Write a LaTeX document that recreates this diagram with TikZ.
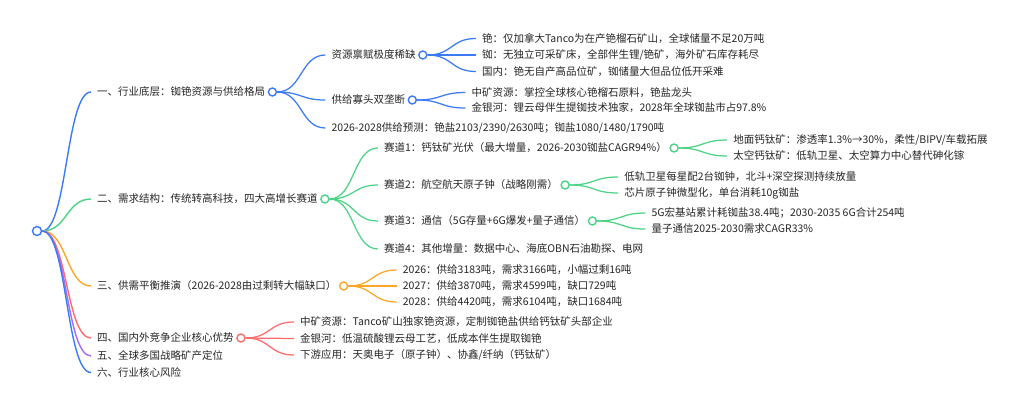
\documentclass[tikz,border=0pt]{standalone}
\usepackage{fontspec}
\setmainfont{Noto Sans CJK SC}
\definecolor{cb}{HTML}{3B7BF6}
\definecolor{cg}{HTML}{4CD386}
\definecolor{co}{HTML}{FFA629}
\definecolor{cr}{HTML}{FF6B6B}
\definecolor{cp}{HTML}{A66CF2}
\definecolor{tx}{HTML}{262626}
\pgfdeclarelayer{bg}
\pgfsetlayers{bg,main}
\tikzset{
 lab/.style={anchor=west, inner sep=0pt, text height=9pt, text depth=1.5pt, font=\fontsize{10.5}{12}\selectfont, text=tx},
 dot/.style={circle, draw=#1, fill=white, line width=1.4pt, minimum size=8pt, inner sep=0pt},
 link/.style={draw=#1, line width=1.25pt, to path={.. controls +(25,0) and +(-25,0) .. (\tikztotarget)}},
 mainlink/.style={draw=#1, line width=1.4pt, to path={.. controls +(25,0) and +(-25,0) .. (\tikztotarget)}},
}
\begin{document}
\begin{tikzpicture}[x=1pt,y=-1pt]
\useasboundingbox (0,0) rectangle (1024,410);

% root
\node[dot=cb, minimum size=9pt] (root) at (37,231) {};

% level 1
\node[lab] (a) at (97,92) {一、行业底层：铷铯资源与供给格局};
\node[dot=cb] (ac) at ([xshift=7]a.east) {};
\node[lab] (b) at (97,199) {二、需求结构：传统转高科技，四大高增长赛道};
\node[dot=cg] (bc) at ([xshift=7]b.east) {};
\node[lab] (c) at (97,286) {三、供需平衡推演（2026-2028由过剩转大幅缺口）};
\node[dot=co] (cc) at ([xshift=7]c.east) {};
\node[lab] (d) at (97,338) {四、国内外竞争企业核心优势};
\node[dot=cr] (dc) at ([xshift=7]d.east) {};
\node[lab] (e) at (97,356) {五、全球多国战略矿产定位};
\node[lab] (f) at (97,372.5) {六、行业核心风险};

% branch a
\coordinate (ak) at ([xshift=59]ac.center);
\node[lab] (a1) at (ak |- 0,55) {资源禀赋极度稀缺};
\node[dot=cb] (a1c) at ([xshift=7]a1.east) {};
\node[lab] (a2) at (ak |- 0,100) {供给寡头双垄断};
\node[dot=cb] (a2c) at ([xshift=7]a2.east) {};
\node[lab] (a3) at (ak |- 0,128) {2026-2028供给预测：铯盐2103/2390/2630吨；铷盐1080/1480/1790吨};
\coordinate (a1k) at ([xshift=59]a1c.center);
\node[lab] (a11) at (a1k |- 0,38.5) {铯：仅加拿大Tanco为在产铯榴石矿山，全球储量不足20万吨};
\node[lab] (a12) at (a1k |- 0,55) {铷：无独立可采矿床，全部伴生锂/铯矿，海外矿石库存耗尽};
\node[lab] (a13) at (a1k |- 0,71.5) {国内：铯无自产高品位矿，铷储量大但品位低开采难};
\coordinate (a2k) at ([xshift=59]a2c.center);
\node[lab] (a21) at (a2k |- 0,92.5) {中矿资源：掌控全球核心铯榴石原料，铯盐龙头};
\node[lab] (a22) at (a2k |- 0,108) {金银河：锂云母伴生提铷技术独家，2028年全球铷盐市占97.8\%};

% branch b
\coordinate (bk) at ([xshift=59]bc.center);
\node[lab] (b1) at (bk |- 0,148) {赛道1：钙钛矿光伏（最大增量，2026-2030铷盐CAGR94\%）};
\node[dot=cg] (b1c) at ([xshift=7]b1.east) {};
\node[lab] (b2) at (bk |- 0,185) {赛道2：航空航天原子钟（战略刚需）};
\node[dot=cg] (b2c) at ([xshift=7]b2.east) {};
\node[lab] (b3) at (bk |- 0,221) {赛道3：通信（5G存量+6G爆发+量子通信）};
\node[dot=cg] (b3c) at ([xshift=7]b3.east) {};
\node[lab] (b4) at (bk |- 0,249) {赛道4：其他增量：数据中心、海底OBN石油勘探、电网};
\coordinate (b1k) at ([xshift=59]b1c.center);
\node[lab] (b11) at (b1k |- 0,140) {地面钙钛矿：渗透率1.3\%→30\%，柔性/BIPV/车载拓展};
\node[lab] (b12) at (b1k |- 0,156) {太空钙钛矿：低轨卫星、太空算力中心替代砷化镓};
\coordinate (b2k) at ([xshift=59]b2c.center);
\node[lab] (b21) at (b2k |- 0,177) {低轨卫星每星配2台铷钟，北斗+深空探测持续放量};
\node[lab] (b22) at (b2k |- 0,193) {芯片原子钟微型化，单台消耗10g铷盐};
\coordinate (b3k) at ([xshift=59]b3c.center);
\node[lab] (b31) at (b3k |- 0,213) {5G宏基站累计耗铷盐38.4吨；2030-2035 6G合计254吨};
\node[lab] (b32) at (b3k |- 0,229) {量子通信2025-2030需求CAGR33\%};

% branch c
\coordinate (ck) at ([xshift=59]cc.center);
\node[lab] (c1) at (ck |- 0,270) {2026：供给3183吨，需求3166吨，小幅过剩16吨};
\node[lab] (c2) at (ck |- 0,286) {2027：供给3870吨，需求4599吨，缺口729吨};
\node[lab] (c3) at (ck |- 0,302) {2028：供给4420吨，需求6104吨，缺口1684吨};

% branch d
\coordinate (dk) at ([xshift=59]dc.center);
\node[lab] (d1) at (dk |- 0,322) {中矿资源：Tanco矿山独家铯资源，定制铷铯盐供给钙钛矿头部企业};
\node[lab] (d2) at (dk |- 0,338.5) {金银河：低温硫酸锂云母工艺，低成本伴生提取铷铯};
\node[lab] (d3) at (dk |- 0,355) {下游应用：天奥电子（原子钟）、协鑫/纤纳（钙钛矿）};

\begin{pgfonlayer}{bg}
\fill[white] (0,0) rectangle (1024,410);
\draw[mainlink=cb] (root.east) to ([xshift=-6]a.west);
\draw[mainlink=cg] (root.east) to ([xshift=-6]b.west);
\draw[mainlink=co] (root.east) to ([xshift=-6]c.west);
\draw[mainlink=cr] (root.east) to ([xshift=-6]d.west);
\draw[mainlink=cp] (root.east) to ([xshift=-6]e.west);
\draw[mainlink=cb] (root.east) to ([xshift=-6]f.west);
\foreach \p/\k/\c in {ac/a1/cb,ac/a2/cb,ac/a3/cb,a1c/a11/cb,a1c/a12/cb,a1c/a13/cb,a2c/a21/cb,a2c/a22/cb,
  bc/b1/cg,bc/b2/cg,bc/b3/cg,bc/b4/cg,b1c/b11/cg,b1c/b12/cg,b2c/b21/cg,b2c/b22/cg,b3c/b31/cg,b3c/b32/cg,
  cc/c1/co,cc/c2/co,cc/c3/co,dc/d1/cr,dc/d2/cr,dc/d3/cr}
  \draw[link=\c] (\p.east) to ([xshift=-6]\k.west);
\end{pgfonlayer}
\end{tikzpicture}
\end{document}
